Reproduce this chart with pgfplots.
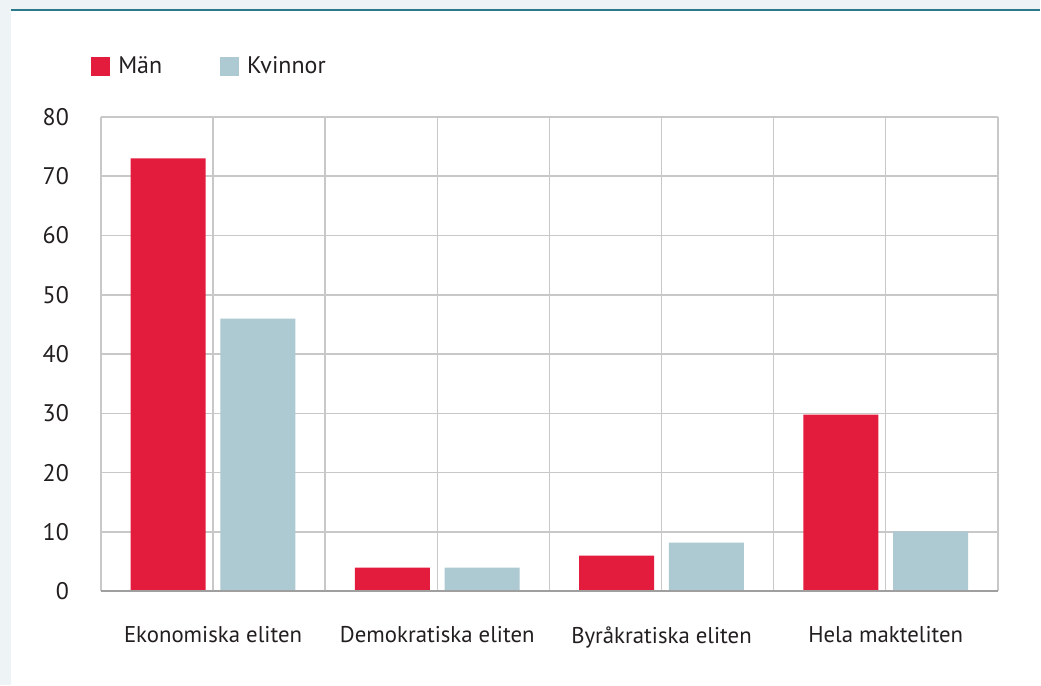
\documentclass[border=0pt]{standalone}
\usepackage{fontspec}
\setmainfont{PT Sans}
\usepackage{pgfplots}
\pgfplotsset{compat=1.18}
\definecolor{bgc}{HTML}{EEF3F6}
\definecolor{topline}{HTML}{2B7A8C}
\definecolor{manred}{HTML}{E31C3D}
\definecolor{kvblue}{HTML}{ADC9D1}
\definecolor{gridc}{HTML}{C8C8C8}
\definecolor{txt}{HTML}{231F20}
\begin{document}
\begin{tikzpicture}[x=1pt,y=1pt]
\fill[bgc] (-50.5,-47) rectangle (470,296);
\fill[white] (-45,-47) rectangle (470,290.5);
\draw[topline, line width=1.2pt] (-45,291) -- (470,291);
\begin{axis}[
  at={(0,0)}, anchor=south west,
  scale only axis, width=449pt, height=237.5pt,
  xmin=-0.5, xmax=3.5, ymin=0, ymax=80,
  xtick={0,1,2,3},
  xticklabels={Ekonomiska eliten,Demokratiska eliten,Byråkratiska eliten,Hela makteliten},
  minor xtick={-0.5,0.5,1.5,2.5,3.5},
  ytick={0,10,...,80},
  /pgf/number format/assume math mode=true,
  grid=both,
  major grid style={gridc, line width=0.75pt},
  minor grid style={gridc, line width=0.75pt},
  axis line style={draw=none},
  tick style={draw=none},
  major tick length=0pt, minor tick length=0pt,
  font=\fontsize{11.4}{13.5}\selectfont,
  tick label style={text=txt},
  yticklabel style={anchor=east, xshift=-12.5pt, font=\fontsize{12}{14}\selectfont},
  xticklabel style={anchor=north, yshift=-14pt},
  ybar,
  bar width=37.5pt,
  legend columns=2,
  legend style={at={(axis description cs:0,1)}, anchor=south west, xshift=-8pt, yshift=16pt,
    draw=none, fill=none, font=\fontsize{12}{14}\selectfont, text=txt,
    /tikz/every even column/.append style={column sep=27pt}},
  legend image code/.code={\fill[#1] (0pt,-4.75pt) rectangle (9.5pt,4.75pt); \path (11.5pt,0pt);},
]
\addplot[fill=manred, draw=none, bar shift=-22.5pt] coordinates {(0,73) (1,4) (2,6) (3,29.8)};
\addlegendentry{Män}
\addplot[fill=kvblue, draw=none, bar shift=22.5pt] coordinates {(0,46) (1,4) (2,8.2) (3,10.1)};
\addlegendentry{Kvinnor}
\draw[gray!75, line width=1pt] (axis cs:-0.5,0) -- (axis cs:3.5,0);
\end{axis}
\end{tikzpicture}
\end{document}
